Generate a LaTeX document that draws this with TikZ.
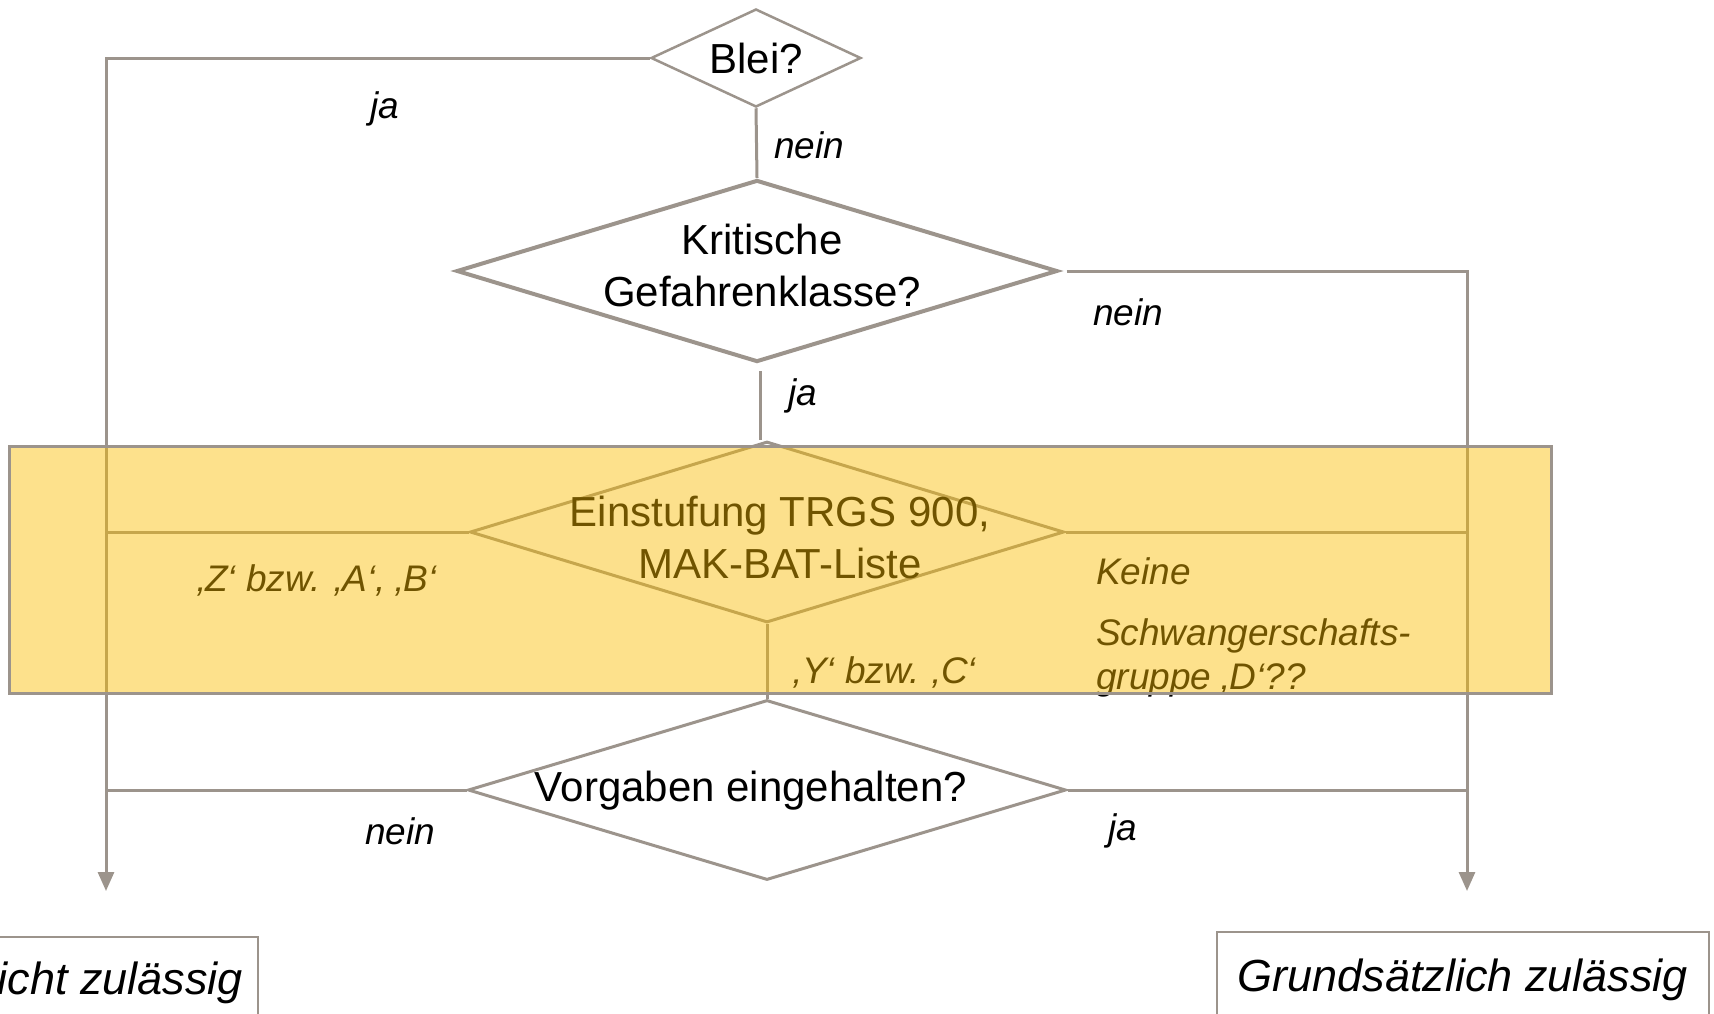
\documentclass[tikz,border=0pt]{standalone}
\usepackage{fontspec}
\setmainfont{Liberation Sans}
\usetikzlibrary{shapes.geometric,arrows.meta}
\definecolor{lg}{RGB}{156,148,140}
\definecolor{ov}{RGB}{250,188,0}
\begin{document}
\begin{tikzpicture}[x=1pt,y=-1pt,
  dia/.style={diamond, draw=lg, line width=3pt, inner sep=0pt, fill=white},
  lab/.style={font=\fontsize{37}{44}\selectfont\itshape, inner sep=0pt},
  big/.style={font=\fontsize{42}{52}\selectfont, inner sep=0pt, align=center},
  conn/.style={draw=lg, line width=3pt},
  arr/.style={conn, -{Triangle[width=16pt,length=19pt]}},
  band/.style={fill=ov, fill opacity=0.45, draw=lg, draw opacity=1, line width=3pt, inner sep=0pt},
  endbox/.style={draw=lg, line width=2.5pt, inner sep=0pt},
  endtxt/.style={font=\fontsize{45}{54}\selectfont\itshape, inner sep=0pt}
  ]
\useasboundingbox (0,0) rectangle (1714,1013);
% diamonds
\node[dia, line width=2.5pt, minimum width=210pt, minimum height=98pt] (blei) at (756,58) {};
\node[dia, line width=4pt, minimum width=601pt, minimum height=182pt] (krit) at (757,271) {};
\node[dia, minimum width=594pt, minimum height=181pt] (einst) at (767,532) {};
\node[dia, minimum width=598pt, minimum height=180pt] (vorg) at (767,790) {};
% corner coordinates
\coordinate (ltop) at (106,58);
\coordinate (lend) at (106,891);
\coordinate (rtop) at (1467,271);
\coordinate (rend) at (1467,891);
\coordinate (kb) at ([xshift=3pt,yshift=-7pt]krit.south);
% connectors
\draw[conn] (blei.south) -- (krit.north);
\draw[conn] (kb) -- (kb |- einst.north);
\draw[conn] (einst.south) -- (vorg.north);
\draw[arr] (blei.west) -- (ltop) -- (lend);
\draw[arr] ([xshift=7pt]krit.east) -- (rtop) -- (rend);
\draw[conn] (einst.west) -- (einst.west -| ltop);
\draw[conn] (einst.east) -- (einst.east -| rtop);
\draw[conn] (vorg.west) -- (vorg.west -| ltop);
\draw[conn] (vorg.east) -- (vorg.east -| rtop);
% texts in diamonds
\node[big] (bleit) at (756,58) {Blei?};
\node[big] (kritt) at (762,265) {Kritische\\Gefahrenklasse?};
\node[big] (einstt) at (780,537) {Einstufung TRGS 900,\\MAK-BAT-Liste};
\node[big] (vorgt) at (751,791) {Vorgaben eingehalten?};
% labels
\node[lab] (l1) at (385,109) {ja};
\node[lab] (l2) at (809,145) {nein};
\node[lab] (l3) at (1128,312) {nein};
\node[lab] (l4) at (803,396) {ja};
\node[lab] (l5) at (317,580) {‚Z‘ bzw. ‚A‘, ‚B‘};
\node[lab, anchor=west] (l6) at (1096,571) {Keine};
\node[lab, anchor=west, align=left] (l7) at (1096,658) {Schwangerschafts-\\gruppe ‚D‘??};
\node[lab] (l8) at (885,672) {‚Y‘ bzw. ‚C‘};
\node[lab] (l9) at (400,831) {nein};
\node[lab] (l10) at (1123,831) {ja};
% yellow band
\node[band, minimum width=1542pt, minimum height=247pt] (bandnode) at (780,569.5) {};
% end boxes
\node[endbox, minimum width=322pt, minimum height=88pt] (nicht) at (97,981) {};
\node[endtxt, anchor=east] (nichtt) at (243,983) {Nicht zulässig};
\node[endbox, minimum width=492pt, minimum height=88pt] (grund) at (1463,976) {};
\node[endtxt] (grundt) at (1463,980) {Grundsätzlich zulässig};
\end{tikzpicture}
\end{document}
